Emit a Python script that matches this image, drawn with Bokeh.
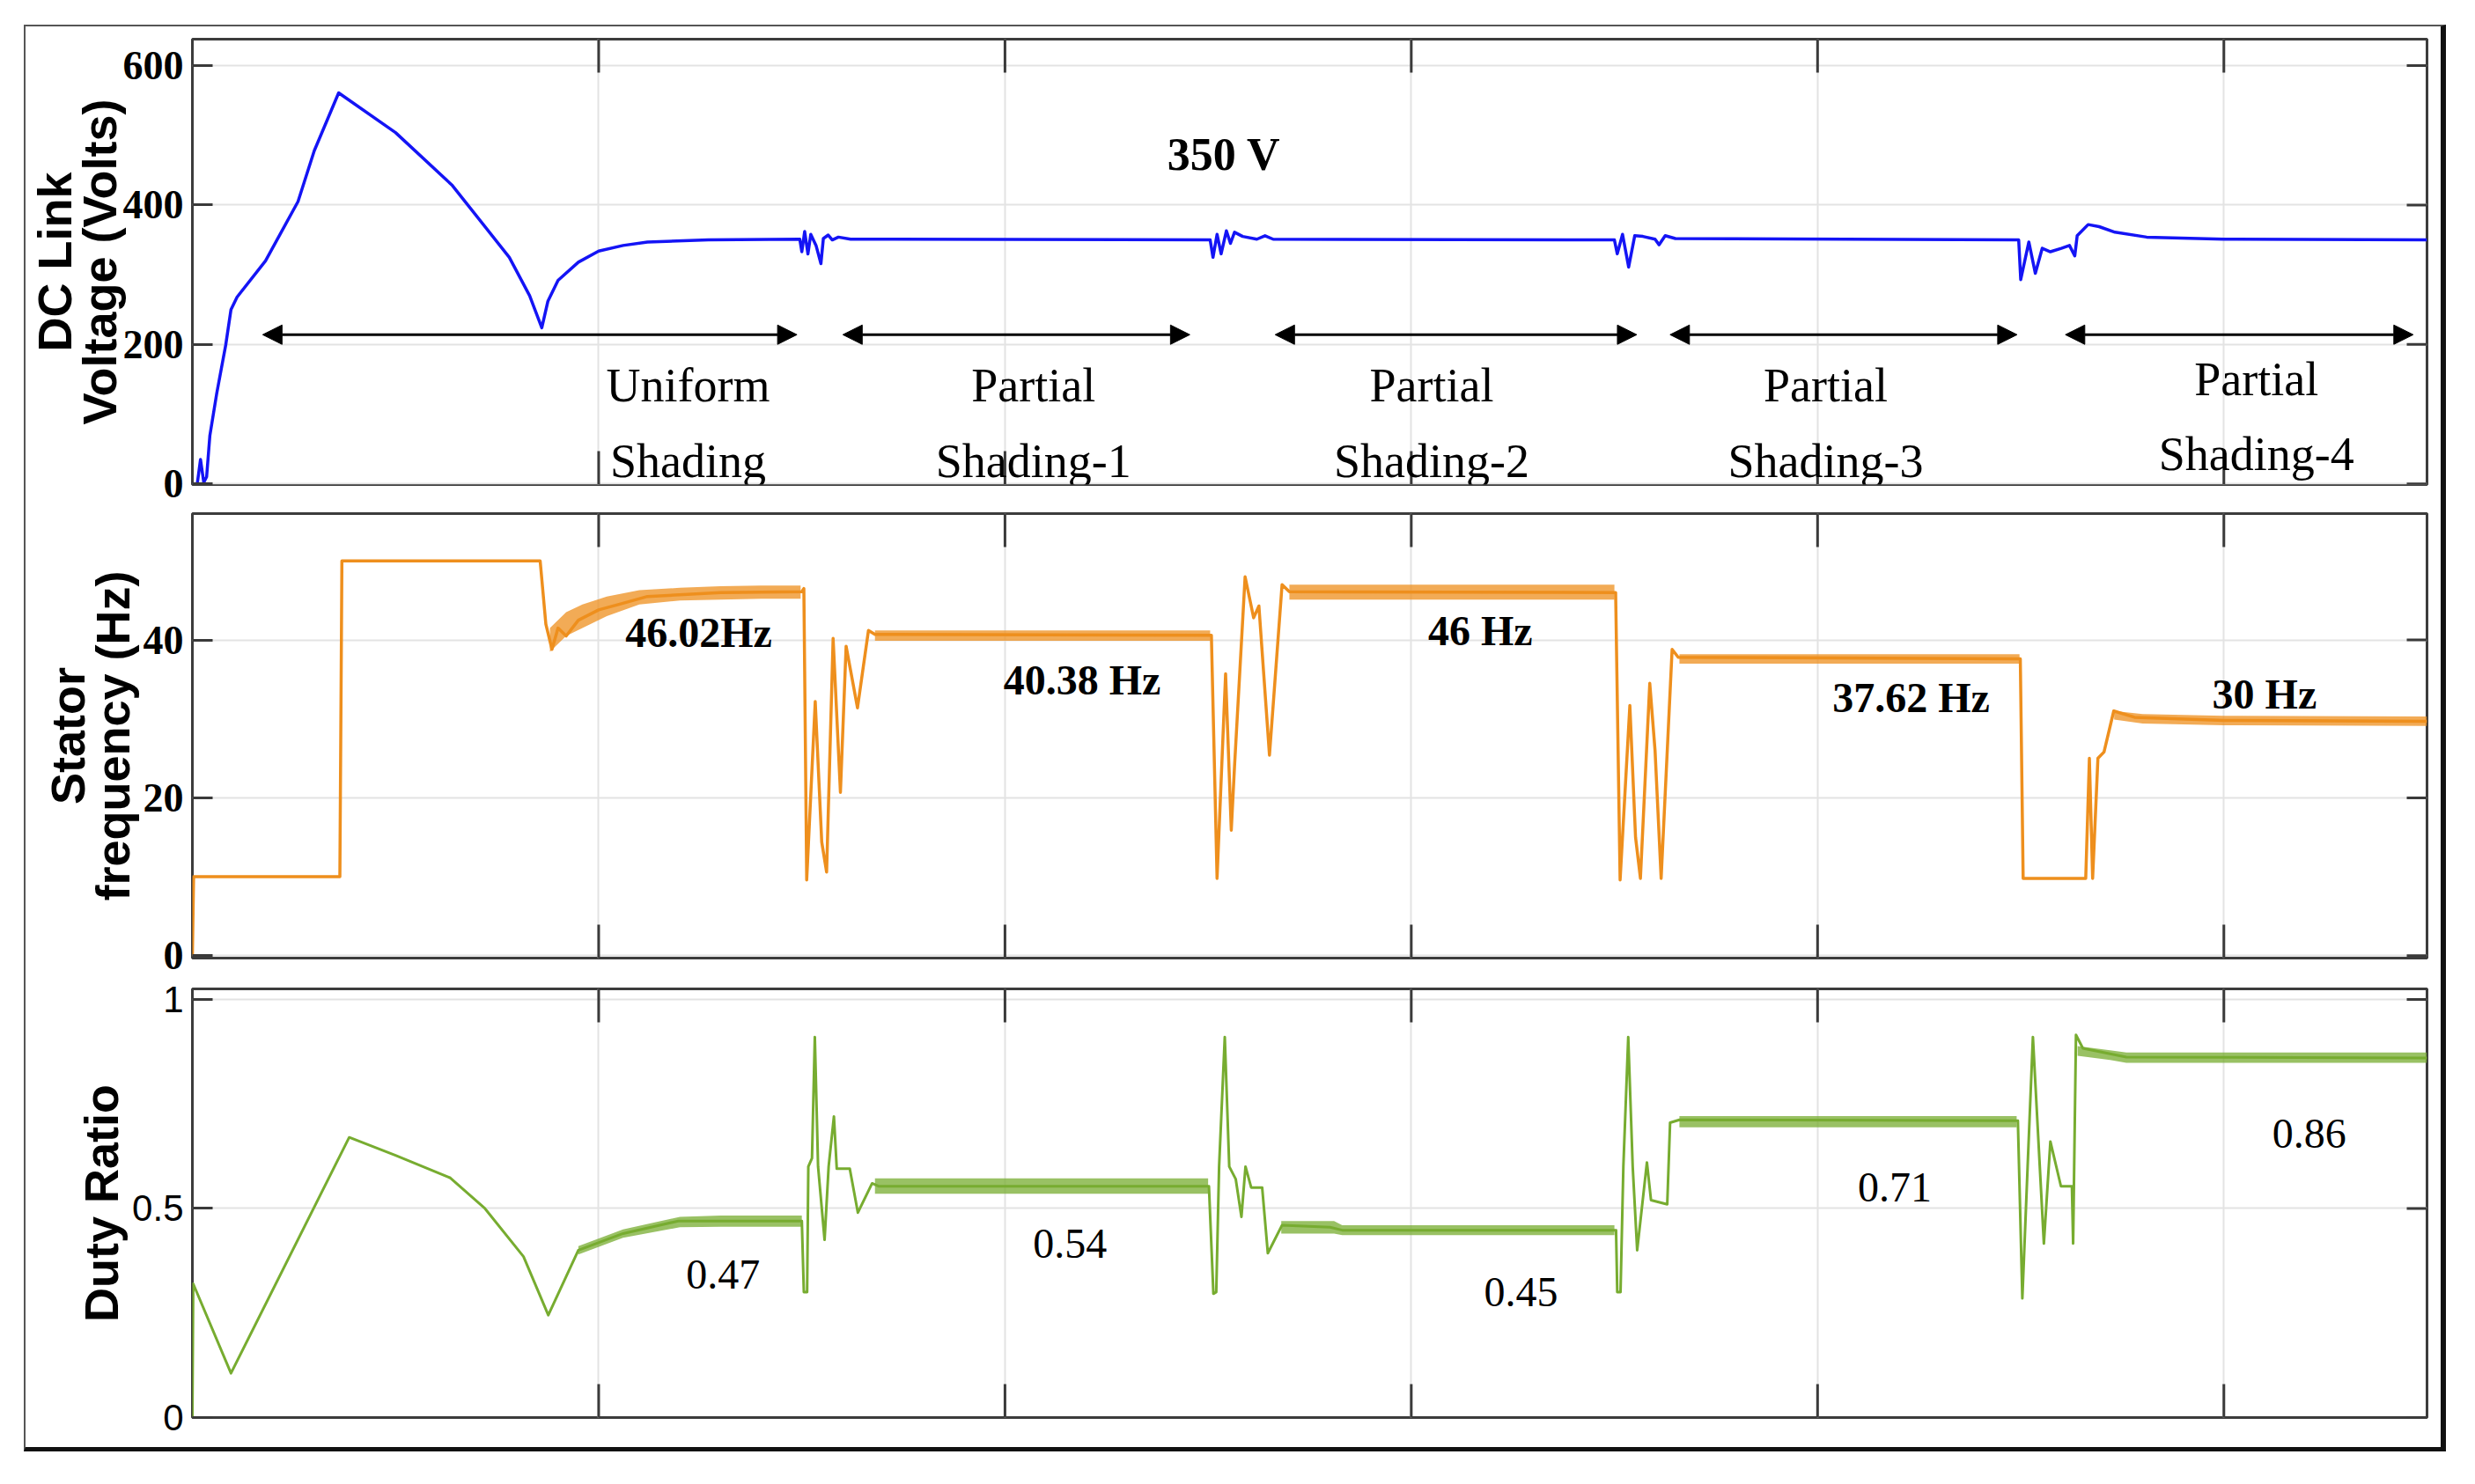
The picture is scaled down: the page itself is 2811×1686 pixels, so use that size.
from bokeh.plotting import figure
from bokeh.models import (Range1d, FixedTicker, Label, Arrow, NormalHead,
                          ColumnDataSource, Column)
from bokeh.embed import file_html
from bokeh.resources import INLINE

# ------------------------------------------------------------------ data
x_grid_ticks = [1, 2, 3, 4, 5]
x_limits = [0, 5.5]

# Panel 1 : DC link voltage (V)
vdc_t = [0.0, 0.012, 0.02, 0.028, 0.035, 0.043, 0.06, 0.082, 0.095, 0.11, 0.18, 0.26, 0.30, 0.36,
         0.50, 0.64, 0.78, 0.83, 0.86, 0.875, 0.90, 0.95, 1.0, 1.06, 1.12, 1.27,
         1.495, 1.50, 1.507, 1.515, 1.522, 1.535, 1.547, 1.553, 1.565, 1.575, 1.59, 1.62,
         2.505, 2.512, 2.522, 2.532, 2.545, 2.555, 2.565, 2.585, 2.62, 2.64, 2.66,
         3.50, 3.507, 3.52, 3.535, 3.55, 3.57, 3.60, 3.61, 3.625, 3.65,
         4.495, 4.50, 4.52, 4.536, 4.553, 4.573, 4.60, 4.62, 4.633, 4.639, 4.666, 4.693,
         4.732, 4.81, 5.0, 5.5]
vdc_v = [0, 0, 35, 2, 10, 69, 130, 199, 250, 268, 320, 405, 478, 561,
         504, 428, 325, 270, 224, 262, 292, 318, 334, 342, 347, 350,
         351, 333, 362, 330, 358, 342, 316, 352, 357, 350, 354, 351,
         350, 325, 358, 330, 363, 345, 361, 355, 351, 356, 351,
         350, 330, 358, 311, 356, 355, 351, 343, 356, 352,
         350, 293, 347, 302, 338, 333, 338, 342, 327, 356, 372, 369,
         361, 354, 351, 350]
vdc_ticks = [0, 200, 400, 600]
vdc_limits = [-1, 638]

# Panel 2 : stator frequency (Hz)
freq_t = [0.0, 0.003, 0.363, 0.368, 0.856, 0.87, 0.885, 0.90, 0.92, 0.95, 1.0, 1.05, 1.12, 1.3, 1.50,
          1.505, 1.512, 1.533, 1.549, 1.561, 1.577, 1.595, 1.609, 1.637, 1.664, 1.68, 2.508,
          2.522, 2.543, 2.557, 2.565, 2.591, 2.612, 2.625, 2.651, 2.682, 2.70, 3.503,
          3.514, 3.538, 3.552, 3.564, 3.587, 3.6, 3.615, 3.642, 3.657, 4.499,
          4.506, 4.66, 4.669, 4.677, 4.69, 4.705, 4.729, 4.78, 5.0, 5.5]
freq_f = [0, 10, 10, 50, 50, 42, 38.8, 41.5, 40.5, 42.5, 43.8, 44.5, 45.5, 46.0, 46.1,
          46.5, 9.6, 32.2, 14.4, 10.6, 40.2, 20.7, 39.2, 31.4, 41.2, 40.7, 40.6,
          9.8, 35.7, 15.9, 24, 48, 42.8, 44.3, 25.4, 47, 46.1, 46,
          9.6, 31.7, 15, 9.8, 34.5, 26, 9.8, 38.8, 37.8, 37.6,
          9.8, 9.8, 25, 9.8, 25, 25.8, 31, 30.2, 29.8, 29.7]
freq_ticks = [0, 20, 40]
freq_limits = [-0.3, 56]
# ripple envelopes (t, low, high)
freq_ripple_1 = ([0.88, 0.92, 0.96, 1.02, 1.10, 1.20, 1.30, 1.40, 1.497],
                 [38.5, 40.5, 41.5, 43.0, 44.5, 45.0, 45.1, 45.2, 45.2],
                 [41.5, 43.5, 44.5, 45.5, 46.3, 46.6, 46.8, 46.9, 46.9])
freq_ripple_2 = ([1.68, 2.505], [39.9, 39.9], [41.2, 41.2])
freq_ripple_3 = ([2.70, 3.50], [45.1, 45.1], [47.0, 47.0])
freq_ripple_4 = ([3.66, 4.497], [37.0, 37.0], [38.2, 38.2])
freq_ripple_5 = ([4.73, 4.8, 5.0, 5.5], [29.9, 29.4, 29.2, 29.1], [31.0, 30.6, 30.4, 30.3])

# Panel 3 : duty ratio
duty_t = [0.0, 0.002, 0.095, 0.386, 0.50, 0.635, 0.72, 0.815, 0.876, 0.95, 1.06, 1.196, 1.50,
          1.505, 1.513, 1.516, 1.525, 1.532, 1.540, 1.556, 1.566, 1.579, 1.586, 1.618, 1.638,
          1.673, 1.69, 2.502,
          2.513, 2.52, 2.527, 2.541, 2.552, 2.568, 2.582, 2.592, 2.606, 2.633, 2.647, 2.682,
          2.80, 2.83, 3.504,
          3.507, 3.515, 3.522, 3.534, 3.545, 3.556, 3.58, 3.59, 3.63, 3.637, 3.66, 4.493,
          4.504, 4.517, 4.53, 4.557, 4.573, 4.599, 4.626, 4.629, 4.636, 4.653, 4.76, 5.5]
duty_d = [0.0, 0.32, 0.106, 0.67, 0.627, 0.573, 0.50, 0.385, 0.245, 0.40, 0.44, 0.47, 0.47,
          0.30, 0.30, 0.60, 0.62, 0.91, 0.60, 0.425, 0.60, 0.72, 0.595, 0.595, 0.49,
          0.56, 0.553, 0.553,
          0.296, 0.30, 0.60, 0.91, 0.60, 0.57, 0.48, 0.60, 0.55, 0.55, 0.393, 0.46,
          0.455, 0.448, 0.448,
          0.30, 0.30, 0.60, 0.91, 0.60, 0.40, 0.61, 0.52, 0.51, 0.705, 0.712, 0.71,
          0.285, 0.60, 0.91, 0.416, 0.66, 0.553, 0.553, 0.416, 0.915, 0.883, 0.862, 0.86]
duty_ticks = [0, 0.5, 1]
duty_tick_labels = ["0", "0.5", "1"]
duty_limits = [0, 1.025]
duty_ripple_1 = ([0.95, 1.06, 1.2, 1.3, 1.50], [0.39, 0.43, 0.455, 0.456, 0.456],
                 [0.41, 0.45, 0.48, 0.483, 0.483])
duty_ripple_2 = ([1.68, 2.50], [0.535, 0.535], [0.572, 0.572])
duty_ripple_3 = ([2.68, 2.81, 2.83, 3.50], [0.44, 0.44, 0.436, 0.436], [0.47, 0.47, 0.46, 0.46])
duty_ripple_4 = ([3.66, 4.49], [0.694, 0.694], [0.721, 0.721])
duty_ripple_5 = ([4.64, 4.72, 4.76, 5.5], [0.865, 0.855, 0.848, 0.848], [0.888, 0.878, 0.873, 0.873])

# texts
vdc_title = "DC Link\nVoltage (Volts)"
freq_title = "Stator\nfrequency (Hz)"
duty_title = "Duty Ratio"
region_x = [1.22, 2.07, 3.05, 4.02, 5.08]
region_line1 = ["Uniform", "Partial", "Partial", "Partial", "Partial"]
region_line2 = ["Shading", "Shading-1", "Shading-2", "Shading-3", "Shading-4"]
region_line1_y = [141, 141, 141, 141, 150]
region_line2_y = [32, 32, 32, 32, 43]
arrow_x_start = [0.173, 1.601, 2.665, 3.637, 4.61]
arrow_x_end = [1.488, 2.455, 3.555, 4.491, 5.466]
arrow_y = [214, 214, 214, 214, 214]
vdc_note = ("350 V", 2.539, 473)
freq_notes_text = ["46.02Hz", "40.38 Hz", "46 Hz", "37.62 Hz", "30 Hz"]
freq_notes_x = [1.246, 2.19, 3.17, 4.23, 5.10]
freq_notes_y = [41.0, 34.9, 41.2, 32.7, 33.1]
duty_notes_text = ["0.47", "0.54", "0.45", "0.71", "0.86"]
duty_notes_x = [1.306, 2.16, 3.27, 4.19, 5.21]
duty_notes_y = [0.341, 0.416, 0.299, 0.55, 0.678]

# ------------------------------------------------------------------ style
BLUE = "#1414f5"
ORANGE = "#ee8f1d"
GREEN = "#77ac30"
SERIF = "Liberation Serif"
SANS = "Liberation Sans"
FIG_W = 2743
B_LEFT, B_RIGHT = 188, 16
FRAME_W = FIG_W - B_LEFT - B_RIGHT
TICK_COL = "#3a3a3a"
X_TICK_LEN = 38   # px
Y_TICK_LEN = 23   # px


def make_fig(ylim, yticks, height, b_top, b_bottom, font, style, tick_size, title, standoff):
    frame_h = height - b_top - b_bottom
    p = figure(width=FIG_W, height=height, x_range=Range1d(*x_limits), y_range=Range1d(*ylim),
               output_backend="svg", toolbar_location=None,
               min_border_left=B_LEFT, min_border_right=B_RIGHT,
               min_border_top=b_top, min_border_bottom=b_bottom)
    p.outline_line_color = "#3c3c3c"
    p.outline_line_width = 3
    p.background_fill_color = "white"
    p.border_fill_color = "white"
    p.xaxis.visible = False
    p.xgrid.ticker = FixedTicker(ticks=x_grid_ticks)
    p.ygrid.ticker = FixedTicker(ticks=yticks)
    p.grid.grid_line_color = "#e3e3e3"
    p.grid.grid_line_width = 2
    ax = p.yaxis[0]
    ax.ticker = FixedTicker(ticks=yticks)
    ax.major_tick_in = Y_TICK_LEN
    ax.major_tick_out = 0
    ax.minor_tick_line_color = None
    ax.axis_line_color = None
    ax.major_tick_line_color = TICK_COL
    ax.major_tick_line_width = 3
    ax.major_label_text_font = font
    ax.major_label_text_font_style = style
    ax.major_label_text_font_size = tick_size
    ax.major_label_text_color = "black"
    ax.major_label_standoff = 10
    ax.axis_label = title
    ax.axis_label_text_font = SANS
    ax.axis_label_text_font_style = "bold"
    ax.axis_label_text_font_size = "54px"
    ax.axis_label_text_color = "black"
    ax.axis_label_text_line_height = 0.84
    ax.axis_label_standoff = standoff
    # mirrored tick marks (top, bottom, right), as in the original frame
    dy = X_TICK_LEN * (ylim[1] - ylim[0]) / frame_h
    dx = Y_TICK_LEN * (x_limits[1] - x_limits[0]) / FRAME_W
    xs = list(x_grid_ticks)
    p.segment(x0=xs, x1=xs, y0=[ylim[1]] * len(xs), y1=[ylim[1] - dy] * len(xs),
              line_color=TICK_COL, line_width=3)
    p.segment(x0=xs, x1=xs, y0=[ylim[0]] * len(xs), y1=[ylim[0] + dy] * len(xs),
              line_color=TICK_COL, line_width=3)
    p.segment(x0=[x_limits[1]] * len(yticks), x1=[x_limits[1] - dx] * len(yticks),
              y0=yticks, y1=yticks, line_color=TICK_COL, line_width=3)
    return p


def note(p, text, x, y, size, style):
    p.add_layout(Label(x=x, y=y, text=text, text_align="center", text_baseline="middle",
                       text_font=SERIF, text_font_style=style, text_font_size=size,
                       text_color="black"))


# ------------------------------------------------------------------ panel 1
p1 = make_fig(vdc_limits, vdc_ticks, 548, 14, 28, SERIF, "bold", "46px", vdc_title, -6)
p1.line(vdc_t, vdc_v, line_color=BLUE, line_width=3.5, line_join="round")
note(p1, vdc_note[0], vdc_note[1], vdc_note[2], "52px", "bold")
for i in range(len(region_x)):
    note(p1, region_line1[i], region_x[i], region_line1_y[i], "54px", "normal")
    note(p1, region_line2[i], region_x[i], region_line2_y[i], "54px", "normal")
arrow_src = ColumnDataSource(dict(xs=arrow_x_start, xe=arrow_x_end, y=arrow_y))
p1.add_layout(Arrow(start=NormalHead(size=22, fill_color="black", line_color="black"),
                    end=NormalHead(size=22, fill_color="black", line_color="black"),
                    x_start="xs", y_start="y", x_end="xe", y_end="y", source=arrow_src,
                    line_color="black", line_width=3))

# ------------------------------------------------------------------ panel 2
p2 = make_fig(freq_limits, freq_ticks, 533, 5, 23, SERIF, "bold", "46px", freq_title, 2)
for bt, blo, bhi in [freq_ripple_1, freq_ripple_2, freq_ripple_3, freq_ripple_4, freq_ripple_5]:
    p2.varea(x=bt, y1=blo, y2=bhi, fill_color=ORANGE, fill_alpha=0.75)
p2.line(freq_t, freq_f, line_color=ORANGE, line_width=3.5, line_join="round")
for i in range(len(freq_notes_text)):
    note(p2, freq_notes_text[i], freq_notes_x[i], freq_notes_y[i], "48px", "bold")

# ------------------------------------------------------------------ panel 3
p3 = make_fig(duty_limits, duty_ticks, 533, 12, 34, SANS, "normal", "42px", duty_title, 2)
p3.yaxis[0].major_label_overrides = {t: l for t, l in zip(duty_ticks, duty_tick_labels)}
for bt, blo, bhi in [duty_ripple_1, duty_ripple_2, duty_ripple_3, duty_ripple_4, duty_ripple_5]:
    p3.varea(x=bt, y1=blo, y2=bhi, fill_color=GREEN, fill_alpha=0.75)
p3.line(duty_t, duty_d, line_color=GREEN, line_width=3, line_join="round")
for i in range(len(duty_notes_text)):
    note(p3, duty_notes_text[i], duty_notes_x[i], duty_notes_y[i], "48px", "normal")

layout = Column(children=[p1, p2, p3], spacing=0,
                styles={"margin-left": "27px", "margin-top": "28px",
                        "border-left": "2px solid #555555", "border-top": "2px solid #555555",
                        "border-right": "6px solid #111111", "border-bottom": "5px solid #111111"})

open("out.html", "w").write(file_html(layout, INLINE))
